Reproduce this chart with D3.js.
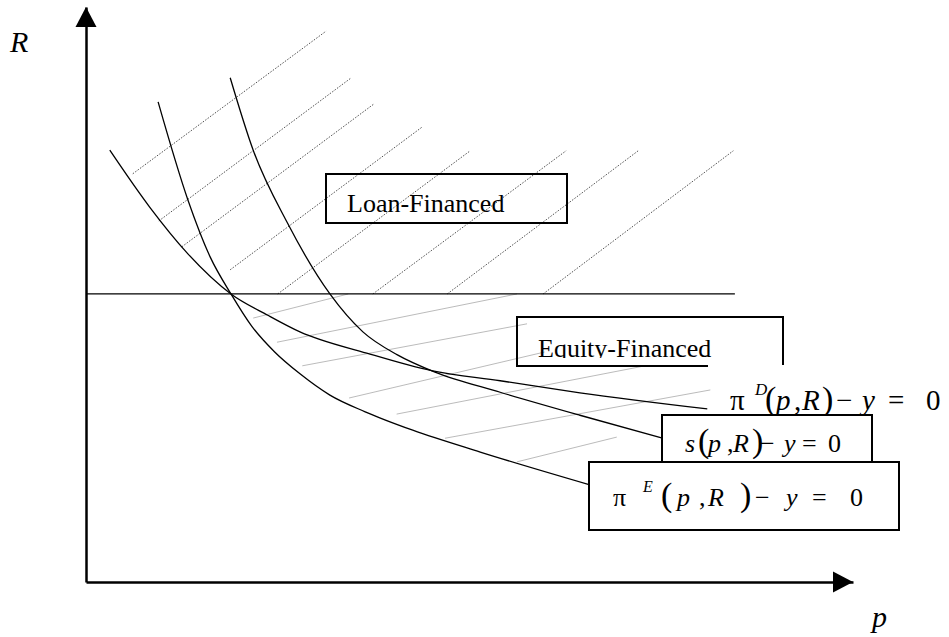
<!DOCTYPE html>
<html>
<head>
<meta charset="utf-8">
<script src="https://cdn.jsdelivr.net/npm/d3@7"></script>
</head>
<body style="margin:0">
<svg id="chart" width="949" height="637"></svg>
<script>
// curves in (p, R) units
const piD = [[0.31, 7.51], [0.83, 6.52], [1.32, 5.72], [1.89, 5.01], [2.37, 4.64], [2.79, 4.35],
  [3.66, 3.98], [4.52, 3.67], [5.40, 3.50], [6.44, 3.29], [8.10, 3.01]]
const sCurve = [[1.88, 8.77], [2.18, 7.51], [2.62, 6.26], [3.18, 5.01], [3.61, 4.35], [4.06, 3.95],
  [4.55, 3.65], [5.40, 3.30], [6.44, 2.90], [7.52, 2.50]]
const piE = [[0.94, 8.35], [1.33, 6.64], [1.62, 5.65], [1.89, 5.01], [2.16, 4.45], [2.46, 4.00],
  [2.79, 3.62], [3.18, 3.25], [3.64, 2.96], [4.26, 2.64], [5.14, 2.26], [6.57, 1.69]]

// horizontal threshold line
const thresholdR = 5.01
const thresholdEnd = 8.46

// hatch segments [p0, R0, p1, R1]
const loanHatch = [[0.61, 7.10, 3.13, 9.58], [0.95, 6.28, 3.46, 8.77], [1.25, 5.83, 3.75, 8.31],
  [1.88, 5.43, 4.38, 7.91], [2.50, 5.01, 5.01, 7.50], [3.74, 5.01, 6.26, 7.50],
  [4.71, 5.01, 7.20, 7.50], [5.96, 5.01, 8.44, 7.50]]
const equityHatch = [[2.18, 4.59, 3.42, 5.01], [2.49, 4.17, 5.62, 5.01], [2.82, 3.76, 5.75, 4.49],
  [3.43, 3.20, 5.98, 4.00], [4.05, 2.92, 7.29, 3.76], [4.68, 2.50, 8.14, 3.34],
  [5.62, 2.09, 6.92, 2.52]]

const svg = d3.select('#chart')

const x = d3.scaleLinear().domain([0, 10]).range([86, 853])
const y = d3.scaleLinear().domain([0, 10]).range([582, 7])

const line = d3.line()
  .x(d => x(d[0]))
  .y(d => y(d[1]))
  .curve(d3.curveMonotoneX)

// hatching
svg.append('g')
  .attr('stroke', '#222')
  .attr('stroke-width', 0.8)
  .attr('stroke-dasharray', '1.5 1.5')
  .selectAll('line')
  .data(loanHatch)
  .join('line')
  .attr('x1', d => x(d[0])).attr('y1', d => y(d[1]))
  .attr('x2', d => x(d[2])).attr('y2', d => y(d[3]))

svg.append('g')
  .attr('stroke', '#aaa')
  .attr('stroke-width', 0.8)
  .selectAll('line')
  .data(equityHatch)
  .join('line')
  .attr('x1', d => x(d[0])).attr('y1', d => y(d[1]))
  .attr('x2', d => x(d[2])).attr('y2', d => y(d[3]))

// axes
svg.append('g')
  .attr('transform', `translate(0,${y(0)})`)
  .call(d3.axisBottom(x).ticks(0).tickSizeOuter(0))
  .call(g => g.select('.domain').attr('stroke-width', 2.5))
svg.append('g')
  .attr('transform', `translate(${x(0)},0)`)
  .call(d3.axisLeft(y).ticks(0).tickSizeOuter(0))
  .call(g => g.select('.domain').attr('stroke-width', 2.5))

svg.append('path')
  .attr('d', `M${x(10)},${y(0)}L${x(10) - 20},${y(0) - 10.5}L${x(10) - 20},${y(0) + 10.5}Z`)
svg.append('path')
  .attr('d', `M${x(0)},${y(10)}L${x(0) - 10.5},${y(10) + 20}L${x(0) + 10.5},${y(10) + 20}Z`)

// threshold line and curves
svg.append('line')
  .attr('x1', x(0)).attr('x2', x(thresholdEnd))
  .attr('y1', y(thresholdR)).attr('y2', y(thresholdR))
  .attr('stroke', '#000').attr('stroke-width', 1.2)

svg.append('g')
  .attr('fill', 'none')
  .attr('stroke', '#000')
  .attr('stroke-width', 1.3)
  .selectAll('path')
  .data([piD, sCurve, piE])
  .join('path')
  .attr('d', line)

// labels: all text lives in one group set to the serif face
const labels = svg.append('g')
  .attr('font-family', 'Liberation Serif')
  .style('font-family', '"Liberation Serif", "Times New Roman", serif')

labels.append('text').attr('x', 10).attr('y', 52)
  .attr('font-size', 30).attr('font-style', 'italic').text('R')
labels.append('text').attr('x', 872).attr('y', 627)
  .attr('font-size', 30).attr('font-style', 'italic').text('p')

function mathText (parent, baseline, parts) {
  const t = parent.append('text').attr('y', baseline)
  parts.forEach(([s, px, size, italic, dy]) => {
    t.append('tspan')
      .attr('x', px)
      .attr('y', baseline + (dy || 0))
      .attr('font-size', size)
      .attr('font-style', italic ? 'italic' : 'normal')
      .text(s)
  })
  return t
}

labels.append('rect')
  .attr('x', 326).attr('y', 174).attr('width', 241).attr('height', 49)
  .attr('fill', 'none').attr('stroke', '#000').attr('stroke-width', 2)
labels.append('text').attr('x', 347).attr('y', 212).attr('font-size', 26).text('Loan-Financed')

labels.append('clipPath').attr('id', 'eqclip')
  .append('rect').attr('x', 517).attr('y', 317).attr('width', 266).attr('height', 41)
labels.append('path')
  .attr('d', 'M708,366H517V317H783V365')
  .attr('fill', 'none').attr('stroke', '#000').attr('stroke-width', 2)
labels.append('text').attr('clip-path', 'url(#eqclip)')
  .attr('x', 538).attr('y', 357).attr('font-size', 26).text('Equity-Financed')

mathText(labels, 410, [
  ['π', 730, 29], ['D', 755, 17, true, -15], ['(', 765, 34], ['p', 776, 29, true],
  [',', 794, 29], ['R', 802, 29, true], [')', 822, 34], ['−', 836, 29],
  ['y', 862, 29, true], ['=', 888, 29], ['0', 926, 29]
])

labels.append('rect')
  .attr('x', 662).attr('y', 415).attr('width', 210).attr('height', 48)
  .attr('fill', '#fff').attr('stroke', '#000').attr('stroke-width', 2)
mathText(labels, 452, [
  ['s', 685, 26, true], ['(', 698, 34], ['p', 708, 26, true], [',', 727, 26],
  ['R', 733, 26, true], [')', 752, 34], ['−', 760, 26], ['y', 784, 26, true],
  ['=', 802, 26], ['0', 828, 26]
])

labels.append('rect')
  .attr('x', 589).attr('y', 462).attr('width', 310).attr('height', 68)
  .attr('fill', '#fff').attr('stroke', '#000').attr('stroke-width', 2)
mathText(labels, 506, [
  ['π', 613, 26], ['E', 643, 16, true, -14], ['(', 661, 34], ['p', 677, 26, true],
  [',', 699, 26], ['R', 708, 26, true], [')', 740, 34], ['−', 755, 26],
  ['y', 786, 26, true], ['=', 812, 26], ['0', 850, 26]
])
</script>
</body>
</html>
